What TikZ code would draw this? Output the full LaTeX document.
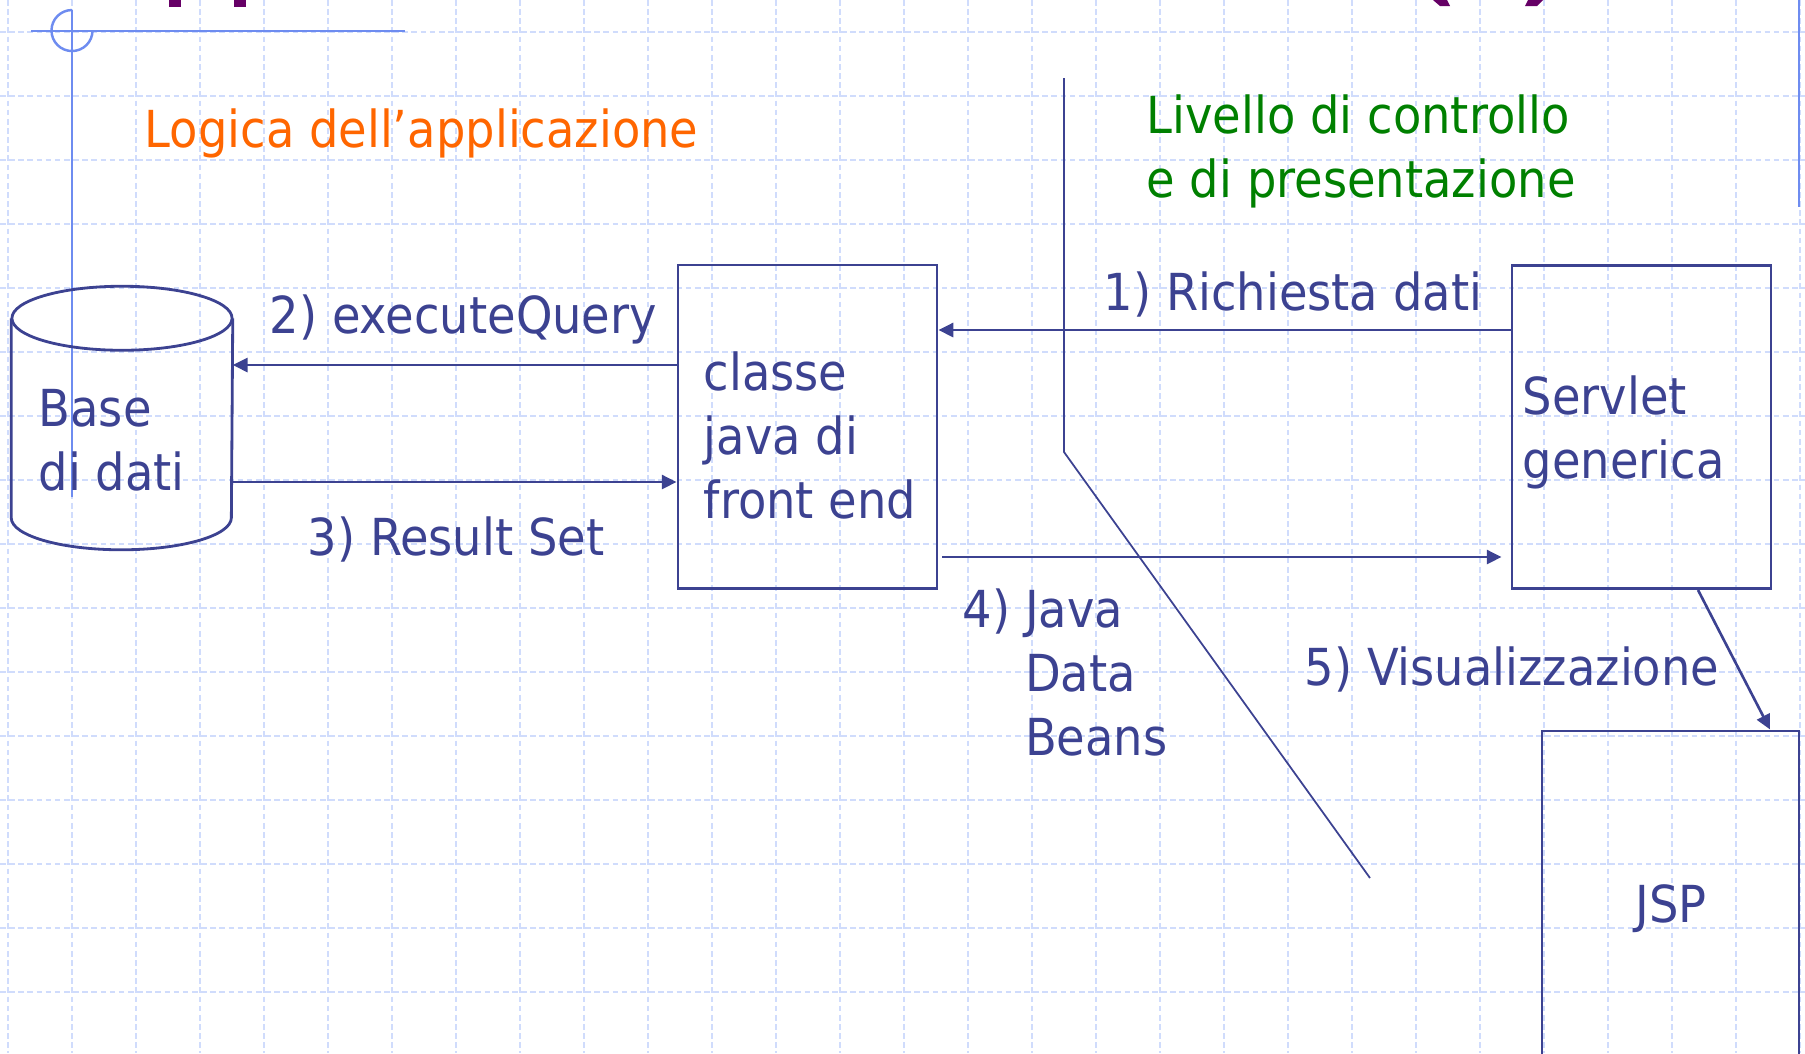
\documentclass[tikz,border=0pt]{standalone}
\usepackage{fontspec}
\setmainfont{DejaVu Sans}[FakeStretch=0.91]
\usetikzlibrary{arrows.meta}
\definecolor{ink}{RGB}{60,66,145}
\definecolor{gridblue}{RGB}{208,220,252}
\definecolor{rule}{RGB}{110,140,240}
\definecolor{titlepurple}{RGB}{102,0,102}
\definecolor{logic}{RGB}{255,102,0}
\definecolor{control}{RGB}{0,128,0}

\begin{document}
\begin{tikzpicture}[x=0.01cm,y=-0.01cm,
    every node/.style={inner sep=0pt,font=\fontsize{14.5}{18.2}\selectfont,text=ink},
    txt/.style={anchor=base west,align=left},
    box/.style={draw=ink,line width=0.8pt,minimum width=2.59cm,minimum height=3.23cm},
    arr/.style={draw=ink,line width=0.75pt,-{Triangle[length=4.2pt,width=4pt]}},
    gridline/.style={gridblue,line width=0.35pt,dash pattern=on 1.6pt off 1pt}]
    \clip (0,0) rectangle (1805,1053);
    \foreach \x in {8,72,...,1800}
        \draw [gridline] (\x,0) -- (\x,1053);
    \foreach \y in {32,96,...,1024}
        \draw [gridline] (0,\y) -- (1805,\y);
    \fill [titlepurple] (169,0) rectangle (181,7);
    \fill [titlepurple] (234,0) rectangle (246,7);
    \fill [titlepurple] (1433,0) -- (1447,0) -- (1450,6) -- (1440,6) -- cycle;
    \fill [titlepurple] (1528,0) -- (1543,0) -- (1537,6) -- (1525,6) -- cycle;
    \draw [rule,line width=0.7pt] (31,31) -- (405,31);
    \draw [rule,line width=0.7pt] (72,10) -- (72,497);
    \draw [rule,line width=0.7pt] (72,10) arc [start angle=90,end angle=360,radius=0.205cm];
    \draw [rule,line width=0.7pt] (1799,0) -- (1799,207);
    \draw [ink,line width=0.5pt] (1064,78) -- (1064,452) -- (1370,878);

    \node (db) [minimum width=2.2cm,minimum height=1.98cm] at (122,418) {};
    \draw [ink,line width=0.8pt] (db.north) ellipse [x radius=1.1cm,y radius=0.32cm];
    \draw [ink,line width=0.8pt] (db.north west) -- (db.south west)
        arc [start angle=180,end angle=360,x radius=1.1cm,y radius=0.32cm] -- (db.north east);
    \node (dbname) [txt] at (38,490) {Base\\di dati};
    \node (fe) [box] at (807.5,426.5) {};
    \node (fename) [txt] at (703,518) {classe\\java di\\front end};
    \node (sv) [box] at (1641.5,427) {};
    \node (svname) [txt] at (1522,478) {Servlet\\generica};
    \node (jsp) [box,minimum width=2.57cm,minimum height=4cm] at (1670.5,931) {};
    \node (jspname) [txt] at (1635,922) {JSP};

    \node (logica) [txt,text=logic] at (144,147) {Logica dell’applicazione};
    \node (controllo) [txt,text=control] at (1146,197) {Livello di controllo\\e di presentazione};

    \draw [arr] (sv.west |- 0,330) -- (fe.east |- 0,330);
    \draw [arr] (fe.west |- 0,365) -- (db.east |- 0,365);
    \draw [arr] (db.east |- 0,482) -- (fe.west |- 0,482);
    \draw [arr,shorten <=0.04cm,shorten >=0.09cm] (fe.east |- 0,557) -- (sv.west |- 0,557);
    \draw [arr] ([xshift=0.565cm]sv.south) -- ([xshift=0.995cm]jsp.north);
    \node (step1) [txt] at (1103,310) {1) Richiesta dati};
    \node (step2) [txt] at (269,333) {2) executeQuery};
    \node (step3) [txt] at (307,555) {3) Result Set};
    \node (step4) [txt] at (962,755) {4) Java\\\phantom{4) }Data\\\phantom{4) }Beans};
    \node (step5) [txt] at (1304,685) {5) Visualizzazione};
\end{tikzpicture}
\end{document}
